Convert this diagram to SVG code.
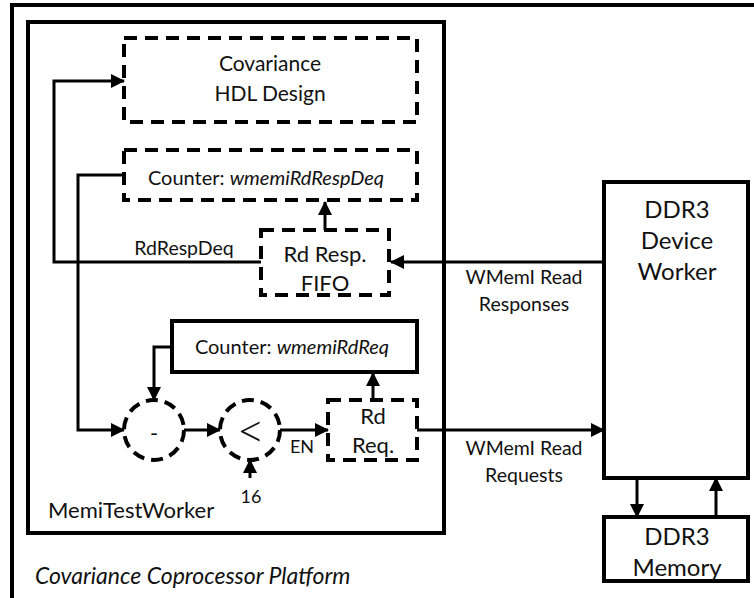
<svg xmlns="http://www.w3.org/2000/svg" width="754" height="598" viewBox="0 0 754 598">
<style>
text{font-family:Lato,"Open Sans","Liberation Sans",sans-serif;fill:#111;}
.box{fill:#fff;stroke:#000;stroke-width:4;}
.dash{fill:#fff;stroke:#000;stroke-width:4;stroke-dasharray:13 8;}
.cdash{fill:#fff;stroke:#000;stroke-width:4;stroke-dasharray:12 7;}
.ln{fill:none;stroke:#000;stroke-width:3;}
.arr{marker-end:url(#ah);}
.t21{font-size:21px;text-anchor:middle;}
.t22{font-size:22px;text-anchor:middle;}
.t20{font-size:20px;text-anchor:middle;}
.t19{font-size:19.5px;text-anchor:middle;}
.t24{font-size:24px;text-anchor:middle;}
</style>
<defs>
<marker id="ah" markerUnits="userSpaceOnUse" markerWidth="14" markerHeight="14" refX="13" refY="7" orient="auto">
<path d="M0,0 L14,7 L0,14 Z" fill="#000"/>
</marker>
</defs>
<rect width="754" height="598" fill="#fff"/>
<g id="platform">
<rect class="box" x="12" y="5" width="780" height="640" fill="none"/>
<text x="35" y="584" style="font-size:23px;font-style:italic">Covariance Coprocessor Platform</text>
</g>
<g id="memitestworker">
<rect class="box" x="28" y="22" width="416" height="511"/>
<text x="48" y="518" style="font-size:22px">MemiTestWorker</text>
</g>
<g id="hdl">
<rect class="dash" x="124" y="38" width="293" height="84"/>
<text class="t21" x="270" y="71">Covariance</text>
<text class="t21" x="270" y="101">HDL Design</text>
</g>
<g id="counterResp">
<rect class="dash" x="124" y="150" width="293" height="50"/>
<text class="t20" x="266" y="185">Counter: <tspan font-style="italic">wmemiRdRespDeq</tspan></text>
</g>
<g id="fifo">
<rect class="dash" x="261" y="230" width="128" height="65"/>
<text class="t22" x="325" y="262">Rd Resp.</text>
<text class="t22" x="325" y="291">FIFO</text>
</g>
<g id="counterReq">
<rect class="box" x="172" y="321" width="245" height="51"/>
<text class="t20" x="292" y="354">Counter: <tspan font-style="italic">wmemiRdReq</tspan></text>
</g>
<g id="minus">
<circle class="cdash" cx="154" cy="430" r="30"/>
<text class="t22" x="154" y="441">-</text>
</g>
<g id="lessthan">
<circle class="cdash" cx="250" cy="430" r="30"/>
<text x="251" y="448" style="font-size:50px;font-weight:300;text-anchor:middle">&lt;</text>
</g>
<g id="rdreq">
<rect class="dash" x="328" y="400" width="89" height="60"/>
<text class="t22" x="373" y="424">Rd</text>
<text class="t22" x="373" y="453">Req.</text>
</g>
<g id="ddr3worker">
<rect class="box" x="604" y="182" width="144" height="296"/>
<text class="t24" x="677" y="218">DDR3</text>
<text class="t24" x="677" y="249">Device</text>
<text class="t24" x="677" y="280">Worker</text>
</g>
<g id="ddr3mem">
<rect class="box" x="604" y="517" width="144" height="64"/>
<text class="t24" x="677" y="545">DDR3</text>
<text class="t24" x="677" y="576">Memory</text>
</g>
<g id="connectors">
<path class="ln arr" d="M261,262 H54 V81 H124"/>
<path class="ln arr" d="M124,175 H78 V430 H124"/>
<path class="ln arr" d="M325,230 V202"/>
<path class="ln arr" d="M604,262 H391"/>
<path class="ln arr" d="M172,347 H154 V400"/>
<path class="ln arr" d="M184,430 H220"/>
<path class="ln arr" d="M280,430 H328"/>
<path class="ln arr" d="M373,400 V373"/>
<path class="ln arr" d="M250,478 V460"/>
<path class="ln arr" d="M417,430 H604"/>
<path class="ln arr" d="M637,478 V517"/>
<path class="ln arr" d="M716,517 V478"/>
</g>
<g id="labels">
<text class="t19" x="184" y="255">RdRespDeq</text>
<text x="302" y="453" style="font-size:18px;text-anchor:middle">EN</text>
<text x="251" y="503" style="font-size:18px;text-anchor:middle">16</text>
<text class="t19" x="524" y="284">WMemI Read</text>
<text class="t19" x="524" y="311">Responses</text>
<text class="t19" x="524" y="455">WMemI Read</text>
<text class="t19" x="524" y="482">Requests</text>
</g>
</svg>
